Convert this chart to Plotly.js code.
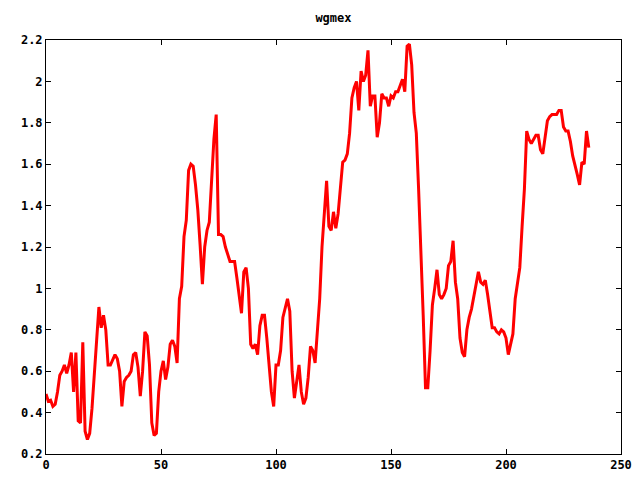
<!DOCTYPE html>
<html>
<head>
<meta charset="utf-8">
<script src="https://cdn.plot.ly/plotly-3.0.1.min.js"></script>
<style>html,body{margin:0;padding:0;background:#fff}#chart{width:640px;height:480px}</style>
</head>
<body>
<div id="chart"></div>
<script>
const chartTitle = "wgmex";
const values = [
0.49,0.455,0.46,0.43,0.44,0.5,0.58,0.6,0.63,0.59,
0.63,0.69,0.5,0.69,0.36,0.35,0.74,0.31,0.27,0.3,
0.42,0.6,0.75,0.91,0.81,0.87,0.8,0.63,0.63,0.66,
0.68,0.66,0.6,0.43,0.55,0.57,0.58,0.6,0.68,0.69,
0.62,0.48,0.6,0.79,0.77,0.63,0.35,0.29,0.3,0.5,
0.6,0.65,0.56,0.62,0.73,0.75,0.72,0.64,0.95,1.01,
1.25,1.33,1.57,1.6,1.59,1.5,1.38,1.21,1.02,1.2,
1.28,1.32,1.55,1.72,1.84,1.26,1.26,1.25,1.2,1.16,
1.13,1.13,1.13,1.05,0.95,0.88,1.08,1.1,1.0,0.73,
0.71,0.73,0.68,0.82,0.87,0.87,0.76,0.62,0.5,0.43,
0.63,0.63,0.7,0.86,0.91,0.95,0.89,0.6,0.47,0.55,
0.63,0.5,0.44,0.47,0.57,0.72,0.7,0.64,0.8,0.95,
1.2,1.34,1.52,1.3,1.28,1.37,1.29,1.36,1.5,1.61,
1.62,1.65,1.75,1.92,1.97,2.0,1.86,2.05,2.0,2.03,
2.15,1.88,1.93,1.93,1.73,1.8,1.94,1.92,1.92,1.88,
1.93,1.92,1.95,1.95,1.98,2.01,1.95,2.17,2.18,2.08,
1.85,1.75,1.48,1.12,0.87,0.52,0.52,0.7,0.92,1.0,
1.09,0.97,0.95,0.97,1.0,1.11,1.13,1.23,1.03,0.95,
0.76,0.69,0.67,0.8,0.86,0.9,0.97,1.02,1.08,1.03,
1.02,1.04,0.97,0.9,0.81,0.81,0.79,0.78,0.8,0.79,
0.76,0.68,0.73,0.78,0.95,1.03,1.1,1.3,1.48,1.76,
1.72,1.7,1.72,1.74,1.74,1.67,1.65,1.72,1.81,1.83,
1.84,1.84,1.84,1.86,1.86,1.78,1.76,1.76,1.71,1.64,
1.6,1.55,1.5,1.61,1.6,1.76,1.68
];
const xs = values.map((_, i) => i);
const xTicks = [0, 50, 100, 150, 200, 250];
const yTicks = [0.2, 0.4, 0.6, 0.8, 1, 1.2, 1.4, 1.6, 1.8, 2, 2.2];
const yTickText = ["0.2","0.4","0.6","0.8","1","1.2","1.4","1.6","1.8","2","2.2"];

const fontFam = "DejaVu Sans Mono, monospace";
const axisCommon = {
  showgrid: false, zeroline: false, showline: true, linecolor: "#000", linewidth: 1,
  mirror: "allticks", ticks: "inside", ticklen: 5, tickcolor: "#000", tickwidth: 1,
  tickfont: {family: fontFam, size: 12, color: "#000", weight: "bold"}
};
Plotly.newPlot("chart", [{
  x: xs, y: values, type: "scatter", mode: "lines",
  line: {color: "#ff0000", width: 3}, hoverinfo: "none"
}], {
  width: 640, height: 480,
  paper_bgcolor: "#fff", plot_bgcolor: "#fff",
  margin: {l: 46, r: 19, t: 40, b: 26},
  showlegend: false,
  title: {text: chartTitle, font: {family: fontFam, size: 12, color: "#000", weight: "bold"},
          x: 0.521, xanchor: "center", y: 0.9625, yanchor: "middle", yref: "container"},
  xaxis: Object.assign({}, axisCommon, {range: [0, 250], tickvals: xTicks, ticktext: xTicks.map(String)}),
  yaxis: Object.assign({}, axisCommon, {range: [0.2, 2.2], tickvals: yTicks, ticktext: yTickText})
}, {staticPlot: true});
</script>
</body>
</html>
